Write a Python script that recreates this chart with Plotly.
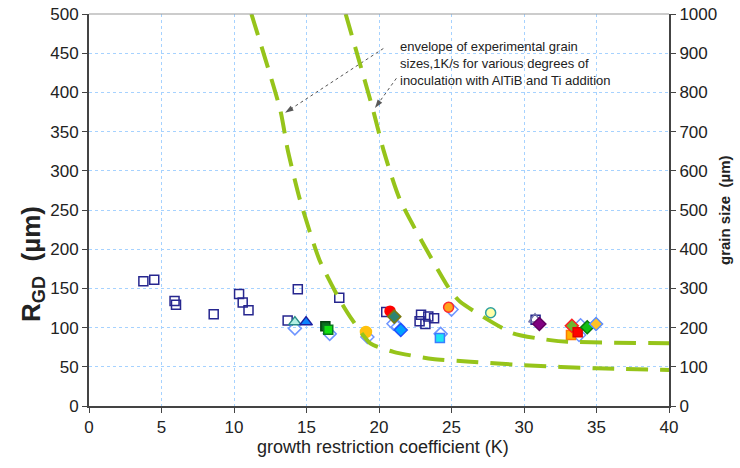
import plotly.graph_objects as go

# ---------------- data ----------------
# open navy squares
sq_x = [3.75, 4.5, 5.9, 6.0, 8.6, 10.35, 10.6, 11.0, 13.7, 14.4, 17.26, 20.5, 22.9, 23.4, 23.8, 22.8, 23.2, 30.8]
sq_y = [159, 161, 134, 129, 117, 143, 132, 122, 109, 149, 138, 120, 116.5, 114, 112, 108, 104.6, 110]
# open light-blue diamonds
od_x = [14.2, 16.6, 19.2, 21.0, 21.3, 24.25, 25.0, 33.9, 33.8]
od_y = [99, 92, 88, 105, 101, 92, 123, 103, 90.6]
# open grey-purple triangle
ot_x = [30.76]
ot_y = [110.6]
# teal triangle
tt_x = [14.2]
tt_y = [107]
# blue triangle
bt_x = [14.97]
bt_y = [107]
# dark green square
dgs_x = [16.3]
dgs_y = [101.6]
# green square
gs_x = [16.5]
gs_y = [97.4]
# gold circle
gc_x = [19.1]
gc_y = [94.4]
# red circle
rc_x = [20.76]
rc_y = [121]
# teal diamond
td_x = [21.05]
td_y = [114]
# blue diamond
bd_x = [21.5]
bd_y = [97]
# cyan square
cs_x = [24.2]
cs_y = [86.7]
# orange circle
oc_x = [24.8]
oc_y = [126]
# light yellow circle
yc_x = [27.7]
yc_y = [119]
# purple diamond
pd_x = [31.06]
pd_y = [104.6]
# orange square
os_x = [33.24]
os_y = [90.6]
# green diamond with red outline
grd_x = [33.3]
grd_y = [102.4]
# red square
rs_x = [33.7]
rs_y = [94]
# green diamond
gd_x = [34.36]
gd_y = [100.4]
# gold diamond
ydm_x = [34.97]
ydm_y = [104.6]

# envelope curves (grain size, right axis)
env_low_x = [11.2, 13.2, 13.7, 14.55, 15.9, 17.3, 18.0, 19.4, 21.0, 23.7, 26.3, 30.0, 35.0, 40.0]
env_low_y = [1000, 754, 654, 526, 372, 270, 228, 160, 138, 120, 113, 104, 96, 92]
env_up_x = [17.7, 19.6, 20.3, 21.45, 24.9, 25.6, 29.2, 31.8, 33.0, 40.0]
env_up_y = [1000, 754, 654, 526, 296, 266, 186, 168, 164, 160]

# annotation arrows (tail -> head)
arrow1_x = [20.3, 13.52]
arrow1_y = [456, 374]
arrow2_x = [21.2, 19.72]
arrow2_y = [418, 380]

x_ticks = list(range(0, 41, 5))
y_ticks = list(range(0, 501, 50))
y2_ticks = list(range(0, 1001, 100))

FONT = "Liberation Sans, Arial, sans-serif"
W, H = 740, 468
# reference plot box (pixels)
RL, RR, RT, RB = 89, 669, 14, 406
PW, PH = RR - RL, RB - RT
ML, MT = RL, RT
MR, MB = W - ML - PW, H - MT - PH

def px_to_paper(px, py):
    return (px - RL) / PW, (RB - py) / PH

fig = go.Figure()

env_color = "#96C41A"
for ex, ey in ((env_low_x, env_low_y), (env_up_x, env_up_y)):
    fig.add_trace(go.Scatter(x=ex, y=ey, yaxis="y2", mode="lines",
                             line=dict(color=env_color, width=4, dash="22px,12px",
                                       shape="spline", smoothing=0.6),
                             hoverinfo="skip"))

series = [
    (sq_x, sq_y, "square-open", "#26268F", "#26268F", 9),
    (od_x, od_y, "diamond-open", "#6F95FF", "#6F95FF", 10),
    (ot_x, ot_y, "triangle-up-open", "#7474AA", "#7474AA", 11),
    (tt_x, tt_y, "triangle-up", "#B4F0E2", "#2A8C88", 11),
    (bt_x, bt_y, "triangle-up", "#0A84FF", "#1E1EA0", 11),
    (dgs_x, dgs_y, "square", "#0B6B1E", "#064010", 9),
    (gs_x, gs_y, "square", "#12E012", "#0A7A20", 9),
    (gc_x, gc_y, "circle", "#FFC20E", "#FFC20E", 11),
    (rc_x, rc_y, "circle", "#FF0000", "#FF0000", 10),
    (td_x, td_y, "diamond", "#2E8472", "#7A7A10", 10),
    (bd_x, bd_y, "diamond", "#00A2FF", "#1F4FFF", 10),
    (cs_x, cs_y, "square", "#1EE6F2", "#3A7CFF", 9),
    (oc_x, oc_y, "circle", "#FFA31A", "#FF2A2A", 10),
    (yc_x, yc_y, "circle", "#FFFFA8", "#2EA0A0", 10),
    (pd_x, pd_y, "diamond", "#800080", "#600060", 10),
    (os_x, os_y, "square", "#FFB400", "#FF7A00", 9),
    (grd_x, grd_y, "diamond", "#6DB52E", "#FF2020", 10),
    (rs_x, rs_y, "square", "#FF0000", "#E00000", 9),
    (gd_x, gd_y, "diamond", "#12C012", "#0A7A0A", 10),
    (ydm_x, ydm_y, "diamond", "#FFC125", "#5A8CFF", 10),
]
for xs, ys, sym, fill, line, size in series:
    fig.add_trace(go.Scatter(x=xs, y=ys, mode="markers",
                             marker=dict(symbol=sym, color=fill, size=size,
                                         line=dict(color=line, width=1.5)),
                             hoverinfo="skip"))

# dotted arrows with arrow heads
for axs, ays in ((arrow1_x, arrow1_y), (arrow2_x, arrow2_y)):
    fig.add_trace(go.Scatter(x=axs, y=ays, mode="lines+markers",
                             line=dict(color="#555555", width=1, dash="dot"),
                             marker=dict(symbol=["circle", "arrow"], size=[0, 9], color="#111111",
                                         angleref="previous", line=dict(width=0)),
                             hoverinfo="skip"))

fig.add_annotation(x=21.3, y=471, xref="x", yref="y", xanchor="left", yanchor="top", align="left",
                   showarrow=False,
                   text="envelope of experimental grain<br>sizes,1K/s for various degrees of<br>inoculation with AlTiB and Ti addition",
                   font=dict(family=FONT, size=13, color="#222222"))

# axis titles placed as annotations (pixel-matched to reference)
ax_, ay_ = px_to_paper(383, 447)
fig.add_annotation(x=ax_, y=ay_, xref="paper", yref="paper", xanchor="center", yanchor="middle",
                   showarrow=False, text="growth restriction coefficient (K)",
                   font=dict(family=FONT, size=18, color="#222222"))
lx, ly = px_to_paper(32, 264)
fig.add_annotation(x=lx, y=ly, xref="paper", yref="paper", xanchor="center", yanchor="middle",
                   showarrow=False, textangle=-90, text="<b>R<sub>GD</sub>\u00a0\u00a0(µm)</b>",
                   font=dict(family=FONT, size=26, color="#222222"))
rx, ry = px_to_paper(724, 210)
fig.add_annotation(x=rx, y=ry, xref="paper", yref="paper", xanchor="center", yanchor="middle",
                   showarrow=False, textangle=-90, text="<b>grain size\u00a0\u00a0(µm)</b>",
                   font=dict(family=FONT, size=15, color="#222222"))

# top border
fig.add_shape(type="line", xref="paper", yref="paper", x0=0, x1=1, y0=1, y1=1,
              line=dict(color="#999999", width=1))

grid = "#A6D2FF"
axis_common = dict(showline=True, linecolor="#444444", linewidth=2, ticks="outside", ticklen=5,
                   tickcolor="#444444", zeroline=False, tickfont=dict(size=17), automargin=False,
                   ticklabeloverflow="allow")
fig.update_layout(
    width=W, height=H,
    margin=dict(l=ML, r=MR, t=MT, b=MB, autoexpand=False),
    paper_bgcolor="white", plot_bgcolor="white",
    showlegend=False,
    font=dict(family=FONT, size=17, color="#222222"),
    xaxis=dict(range=[0, 40], tickvals=x_ticks, showgrid=True, gridcolor=grid, griddash="dot",
               gridwidth=1, **axis_common),
    yaxis=dict(range=[0, 500], tickvals=y_ticks, showgrid=True, gridcolor=grid, griddash="dot",
               gridwidth=1, **axis_common),
    yaxis2=dict(range=[0, 1000], tickvals=y2_ticks, overlaying="y", side="right", showgrid=False,
                **axis_common),
)

fig.write_html("out.html", config={"displayModeBar": False},
               post_script="document.body.style.margin='0px';")
